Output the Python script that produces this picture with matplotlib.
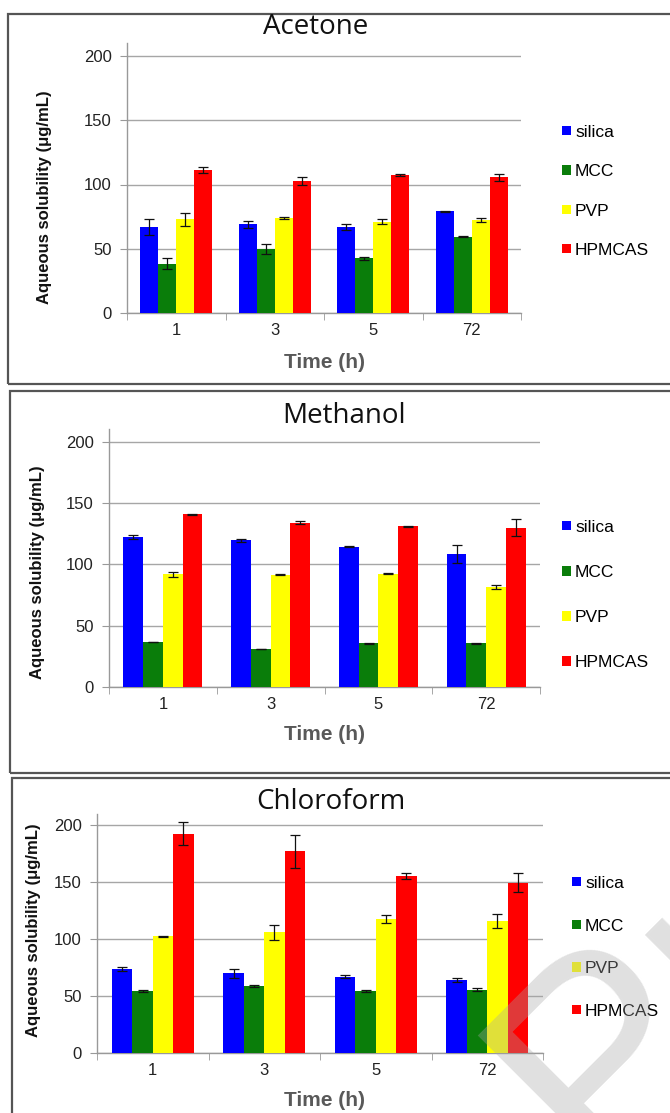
import matplotlib
matplotlib.use("Agg")
import matplotlib.pyplot as plt
import numpy as np
from matplotlib.patches import Rectangle

W, H = 670, 1113

times = ["1", "3", "5", "72"]
materials = ["silica", "MCC", "PVP", "HPMCAS"]
colors = ["#0000ff", "#0a7d0a", "#ffff00", "#ff0000"]

# Acetone
acetone_mean = {
    "silica": [67, 69, 67, 79],
    "MCC": [38.5, 50, 42.5, 59.5],
    "PVP": [73, 74, 71, 72.5],
    "HPMCAS": [111.5, 102.5, 107.5, 105.5],
}
acetone_err = {
    "silica": [6.5, 2.5, 2.5, 0.5],
    "MCC": [4.5, 4, 1, 0.4],
    "PVP": [5, 1, 2, 1.3],
    "HPMCAS": [2.5, 3, 1, 3],
}
# Methanol
methanol_mean = {
    "silica": [122.5, 119.5, 114.3, 108.5],
    "MCC": [36.7, 31, 35.6, 35.6],
    "PVP": [92, 91.5, 92.5, 81.5],
    "HPMCAS": [140.7, 134, 131, 130],
}
methanol_err = {
    "silica": [1.5, 1.3, 0.3, 7.5],
    "MCC": [0.3, 0.3, 0.5, 0.3],
    "PVP": [2, 0.5, 0.3, 1.5],
    "HPMCAS": [0.5, 1, 0.3, 7],
}
# Chloroform
chloroform_mean = {
    "silica": [73.7, 70, 67, 64.3],
    "MCC": [54.4, 58.8, 54.4, 55.6],
    "PVP": [102.3, 106, 117.5, 116],
    "HPMCAS": [192.5, 177, 155, 149.5],
}
chloroform_err = {
    "silica": [1.7, 3.8, 1.5, 1.8],
    "MCC": [0.5, 0.5, 1, 1],
    "PVP": [0.5, 6.5, 3.3, 6],
    "HPMCAS": [10, 14.5, 2.6, 8.2],
}

panels = [
    # title, means, errs, axes px (left, right, y0, y200), frame px (left, top, bottom),
    # title xy, ylabel xy, xlabel xy, legend (x, y_top, spacing)
    ("Acetone", acetone_mean, acetone_err, (127, 521, 313, 56), (8, 14, 384),
     (316, 27), (45, 197), (325, 363), (562, 125, 1.40)),
    ("Methanol", methanol_mean, methanol_err, (109, 540, 687, 441.7), (9.5, 391, 773),
     (344, 416), (38, 572), (325, 735), (562, 520, 1.73)),
    ("Chloroform", chloroform_mean, chloroform_err, (97, 543, 1053, 825), (12, 778, 1140),
     (331, 802), (34, 930), (325, 1100), (572, 876, 1.59)),
]

plt.rcParams["font.family"] = ["Liberation Sans", "DejaVu Sans"]

fig = plt.figure(figsize=(W / 100, H / 100), dpi=100)


def fx(x):
    return x / W


def fy(y):
    return 1 - y / H


for (title, means, errs, axpx, frpx, tpos, ylpos, xlpos, legpos) in panels:
    left, right, y0, y200 = axpx
    per_unit = (y0 - y200) / 200.0
    ytop = y0 - 210 * per_unit
    ax = fig.add_axes([fx(left), fy(y0), (right - left) / W, (y0 - ytop) / H])

    x = np.arange(len(times))
    bw = 0.183
    handles = []
    for i, m in enumerate(materials):
        offs = (i - 1.5) * bw
        b = ax.bar(x + offs, means[m], bw, color=colors[i], edgecolor="none",
                   yerr=errs[m], capsize=3.5,
                   error_kw=dict(ecolor="#111111", elinewidth=0.9, capthick=0.9),
                   zorder=3, label=m)
        handles.append(b)

    ax.set_xlim(-0.5, len(times) - 0.5)
    ax.set_ylim(0, 210)
    ax.set_yticks([0, 50, 100, 150, 200])
    ax.yaxis.grid(True, color="#a6a6a6", linewidth=1.0, zorder=0)
    ax.set_axisbelow(True)
    for s in ["top", "right"]:
        ax.spines[s].set_visible(False)
    for s in ["left", "bottom"]:
        ax.spines[s].set_color("#999999")
        ax.spines[s].set_linewidth(1.0)
    ax.set_xticks(x)
    ax.set_xticklabels(times)
    ax.set_xticks(np.arange(-0.5, len(times)), minor=True)
    ax.tick_params(axis="x", which="major", length=0, labelsize=12, pad=7, labelcolor="#222222")
    ax.tick_params(axis="x", which="minor", length=5, color="#999999", direction="out")
    ax.tick_params(axis="y", which="major", length=5, color="#999999", labelsize=12,
                   pad=6, labelcolor="#222222")

    fig.text(fx(tpos[0]), fy(tpos[1]), title, fontsize=20, family=["Open Sans", "DejaVu Sans"],
             ha="center", va="center", color="#111111")
    fig.text(fx(ylpos[0]), fy(ylpos[1]), "Aqueous solubility (\u03bcg/mL)", rotation=90,
             fontsize=12, fontweight="bold", ha="center", va="center", color="#111111")
    fig.text(fx(xlpos[0]), fy(xlpos[1]), "Time (h)", fontsize=15, fontweight="bold",
             ha="center", va="center", color="#595959")

    leg = ax.legend(handles=handles, labels=materials, loc="upper left",
                    bbox_to_anchor=(fx(legpos[0]), fy(legpos[1])),
                    bbox_transform=fig.transFigure, frameon=False, fontsize=12.5,
                    handlelength=0.5, handleheight=0.45, handletextpad=0.25,
                    labelspacing=legpos[2], borderaxespad=0, borderpad=0)

    fl, ft, fb = frpx
    fig.patches.append(Rectangle((fx(fl), fy(fb)), 1.2, (fb - ft) / H,
                                 transform=fig.transFigure, fill=False,
                                 edgecolor="#555555", linewidth=1.6, clip_on=False))

# faint watermark in the lower right corner
fig.text(fx(596), fy(1178), "Pr", fontsize=210, rotation=45, rotation_mode="anchor",
         color="#a7a7a7", alpha=0.35, ha="left", va="baseline",
         family=["Liberation Sans", "DejaVu Sans"], zorder=10)

fig.savefig("out.png", dpi=100)
